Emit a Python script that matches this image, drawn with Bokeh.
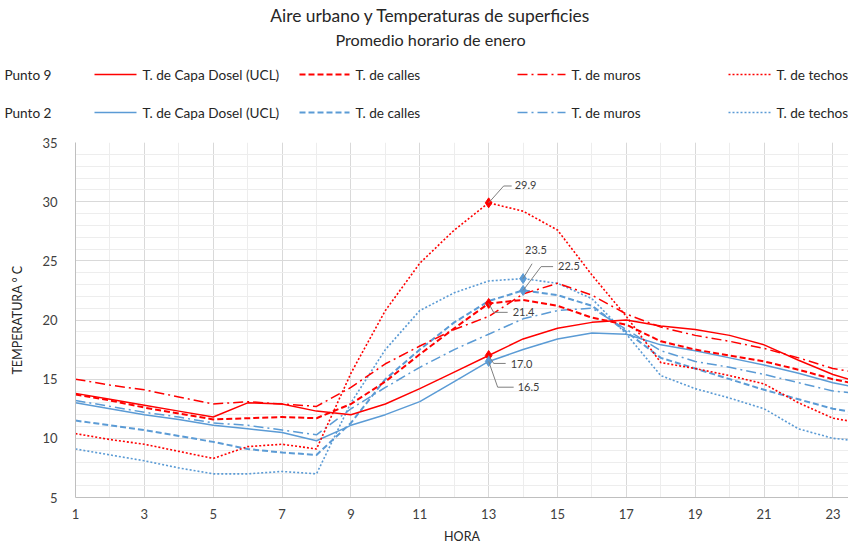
from bokeh.plotting import figure
from bokeh.models import Range1d, FixedTicker
from bokeh.layouts import column
from bokeh.embed import file_html
from bokeh.resources import INLINE
from bokeh.core.properties import value

# ---------------- data ----------------
hours = list(range(1, 25))
x_ticks = [1, 3, 5, 7, 9, 11, 13, 15, 17, 19, 21, 23]
y_ticks = [5, 10, 15, 20, 25, 30, 35]

# Punto 9 (red)
p9_ucl = [13.8, 13.3, 12.8, 12.3, 11.8, 13.0, 12.9, 12.3, 12.0, 12.9, 14.2, 15.6,
          17.0, 18.4, 19.3, 19.8, 20.0, 19.5, 19.2, 18.7, 17.9, 16.6, 15.4, 14.5]
p9_calles = [13.7, 13.2, 12.6, 12.1, 11.6, 11.7, 11.8, 11.7, 12.9, 14.8, 17.1, 19.3,
             21.4, 21.7, 21.2, 20.2, 19.6, 18.2, 17.5, 17.0, 16.5, 15.8, 15.0, 14.4]
p9_muros = [15.0, 14.5, 14.1, 13.5, 12.9, 13.1, 12.9, 12.7, 14.3, 16.3, 17.8, 19.2,
            20.3, 22.2, 23.1, 22.1, 20.5, 19.4, 18.7, 18.2, 17.6, 16.8, 15.9, 15.4]
p9_techos = [10.4, 9.9, 9.5, 8.9, 8.3, 9.3, 9.5, 9.1, 15.5, 20.8, 24.8, 27.6,
             29.9, 29.2, 27.6, 23.8, 20.3, 16.4, 15.9, 15.3, 14.6, 13.0, 11.7, 11.2]

# Punto 2 (blue)
p2_ucl = [13.0, 12.5, 12.0, 11.6, 11.1, 10.8, 10.5, 9.8, 11.1, 12.0, 13.1, 14.8,
          16.5, 17.5, 18.4, 18.9, 18.8, 17.9, 17.4, 16.8, 16.2, 15.5, 14.7, 14.1]
p2_calles = [11.5, 11.1, 10.7, 10.2, 9.7, 9.1, 8.8, 8.6, 11.3, 15.0, 17.5, 19.8,
             21.6, 22.5, 22.1, 21.2, 19.0, 16.8, 15.9, 15.0, 14.1, 13.3, 12.5, 12.0]
p2_muros = [13.2, 12.7, 12.2, 11.8, 11.3, 11.1, 10.7, 10.3, 12.5, 14.3, 16.0, 17.5,
            18.8, 20.1, 20.8, 21.0, 19.2, 17.4, 16.5, 16.0, 15.4, 14.7, 14.0, 13.7]
p2_techos = [9.1, 8.6, 8.1, 7.5, 7.0, 7.0, 7.2, 7.0, 13.0, 17.5, 20.8, 22.3,
             23.3, 23.5, 23.1, 21.8, 18.8, 15.3, 14.2, 13.4, 12.5, 10.8, 10.0, 9.7]

series_names = ["T. de Capa Dosel (UCL)", "T. de calles", "T. de muros", "T. de techos"]
group_names = ["Punto 9", "Punto 2"]
title_lines = ["Aire urbano y Temperaturas de superficies", "Promedio horario de enero"]

# ---------------- style / layout ----------------
FONT = "Lato"
RED = "#FF0000"
BLUE = "#5B9BD5"
TXT = "#404040"
DARK = "#262626"
styles = [  # (dash, width)
    ("solid", 1.5),
    ("6 3", 2.0),
    ("10 4 2 4", 1.5),
    ("2 2", 1.6),
]

PAGE = 8
W = 848
HH = 124                     # header height
MH = 422                     # main chart height
BL, BR = 75, 0
BT, BB = 18, 46
FW = W - BL - BR
FH = MH - BT - BB
FL = PAGE + BL               # page x of the frame's left edge
PXH = 34.43
X0 = 1
X1 = X0 + FW / PXH
Y0, Y1 = 5, 35

# ---------------- header (title + legend), page-pixel coordinates ----------------
h = figure(width=W, height=HH, x_range=Range1d(FL, FL + FW),
           y_range=Range1d(PAGE + HH, PAGE), title=None, x_axis_type=None,
           toolbar_location=None, output_backend="svg",
           min_border_left=BL, min_border_right=BR, min_border_top=0, min_border_bottom=0)
h.grid.visible = False
h.outline_line_color = None

row_y = [82, 120]
h.yaxis.ticker = FixedTicker(ticks=row_y)
h.yaxis.major_label_overrides = {row_y[0]: group_names[0], row_y[1]: group_names[1]}
h.yaxis.axis_line_color = None
h.yaxis.major_tick_line_color = None
h.yaxis.minor_tick_line_color = None
h.yaxis.major_label_standoff = 18
h.yaxis.major_label_text_font = FONT
h.yaxis.major_label_text_font_size = "13.6px"
h.yaxis.major_label_text_color = DARK

h.text(x=[438], y=[23], text=[title_lines[0]], text_align="center",
       text_baseline="middle", text_font=value(FONT), text_font_size="17.4px",
       text_color=DARK)
h.text(x=[438], y=[47], text=[title_lines[1]], text_align="center",
       text_baseline="middle", text_font=value(FONT), text_font_size="16.2px",
       text_color=DARK)

colors = [RED, BLUE]
sample_x = [(102, 144), (307, 357), (525, 573), (736, 779)]
label_x = [150, 363, 579, 784]
for gi in range(2):
    yy = row_y[gi]
    for si, sname in enumerate(series_names):
        dash, lw = styles[si]
        h.line(x=list(sample_x[si]), y=[yy, yy], line_color=colors[gi], line_dash=dash,
               line_width=lw)
        h.text(x=[label_x[si]], y=[yy], text=[sname], text_baseline="middle",
               text_font=value(FONT), text_font_size="13.6px", text_color=DARK)

# ---------------- main chart ----------------
p = figure(width=W, height=MH, x_range=Range1d(X0, X1), y_range=Range1d(Y0, Y1),
           title=None, toolbar_location=None, output_backend="svg",
           min_border_left=BL, min_border_right=BR, min_border_top=BT, min_border_bottom=BB)
p.outline_line_color = None
PXT = FH / (Y1 - Y0)

p.xaxis.ticker = FixedTicker(ticks=x_ticks, minor_ticks=hours)
p.yaxis.ticker = FixedTicker(ticks=y_ticks, minor_ticks=list(range(Y0, Y1 + 1)))
p.xgrid.grid_line_color = "#d9d9d9"
p.xgrid.minor_grid_line_color = "#ededed"
p.ygrid.grid_line_color = "#d9d9d9"
p.ygrid.minor_grid_line_color = "#ededed"

p.axis.major_tick_line_color = None
p.axis.minor_tick_line_color = None
p.axis.axis_line_color = "#bfbfbf"
p.axis.major_label_text_font = FONT
p.axis.major_label_text_font_size = "13px"
p.axis.major_label_text_color = TXT
p.xaxis.major_label_standoff = 5
p.yaxis.major_label_standoff = 12
p.xaxis.axis_label = "HORA"
p.yaxis.axis_label = "TEMPERATURA ° C"
p.axis.axis_label_text_font = FONT
p.axis.axis_label_text_font_style = "normal"
p.axis.axis_label_text_font_size = "12.5px"
p.axis.axis_label_text_color = DARK
p.xaxis.axis_label_standoff = 7
p.yaxis.axis_label_standoff = 14

blue_series = [p2_ucl, p2_calles, p2_muros, p2_techos]
red_series = [p9_ucl, p9_calles, p9_muros, p9_techos]
for vals, (dash, lw) in zip(blue_series, styles):
    p.line(hours, vals, line_color=BLUE, line_dash=dash, line_width=lw)
for vals, (dash, lw) in zip(red_series, styles):
    p.line(hours, vals, line_color=RED, line_dash=dash, line_width=lw)

# highlighted points
red_pts = [(13, p9_techos[12]), (13, p9_calles[12]), (13, p9_ucl[12])]
blue_pts = [(14, p2_techos[13]), (14, p2_calles[13]), (13, p2_ucl[12])]
p.scatter([a for a, b in red_pts], [b for a, b in red_pts], marker="diamond", size=10,
          color=RED)
p.scatter([a for a, b in blue_pts], [b for a, b in blue_pts], marker="diamond", size=10,
          color=BLUE)

# data labels with leader lines: (point, elbow px, end px, text px)
ann = [
    (red_pts[0], (15, -17), (23, -17), (26, -18)),
    (blue_pts[0], (9, -15), (9, -15), (2, -29)),
    (blue_pts[1], (18, -24), (30, -24), (35, -25)),
    (red_pts[1], (5, 9), (19, 9), (24, 9)),
    (red_pts[2], (5, 8), (17, 8), (22, 9)),
    (blue_pts[2], (9, 26), (25, 26), (29, 26)),
]
xs, ys, tx, ty, tt = [], [], [], [], []
for (hx, hv), e, en, t in ann:
    pts = [(0, 0), e, en]
    xs.append([hx + a / PXH for a, b in pts])
    ys.append([hv - b / PXT for a, b in pts])
    tx.append(hx + t[0] / PXH)
    ty.append(hv - t[1] / PXT)
    tt.append(f"{hv:.1f}")
p.multi_line(xs, ys, line_color="#7f7f7f", line_width=1)
p.text(x=tx, y=ty, text=tt, text_baseline="middle", text_font=value(FONT),
       text_font_size="11px", text_color=TXT)

layout = column(h, p, spacing=0)
open("out.html", "w").write(file_html(layout, INLINE))
